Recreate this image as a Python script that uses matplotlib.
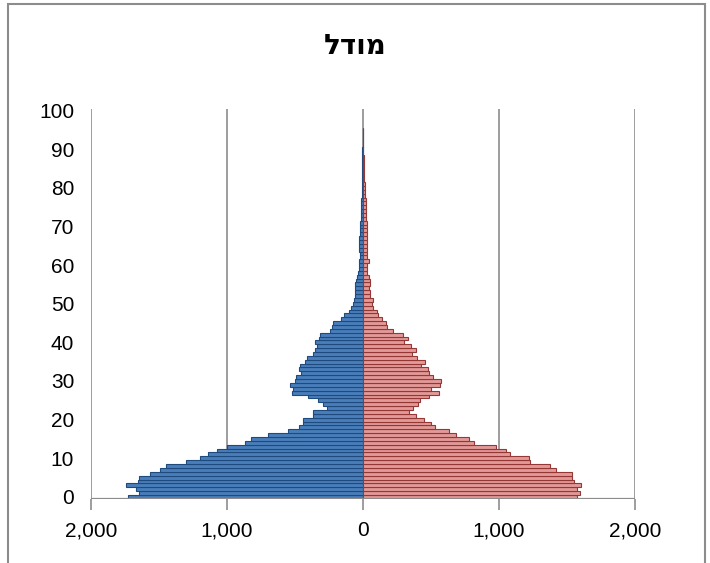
import matplotlib.pyplot as plt
import matplotlib.patches as patches
import numpy as np

# ages 0..95
ages = np.arange(0, 96)

# left side (blue)
blue = [1730, 1645, 1669, 1743, 1657, 1645, 1566, 1488, 1444, 1297,
        1199, 1137, 1071, 1002, 863, 821, 696, 549, 468, 439,
        439, 370, 370, 262, 292, 333, 402, 524, 512, 532,
        500, 493, 458, 468, 463, 426, 409, 370, 353, 340,
        353, 321, 316, 243, 230, 218, 157, 140, 103, 90,
        71, 64, 59, 59, 54, 54, 47, 40, 34, 30,
        29, 27, 24, 24, 25, 27, 29, 26, 22, 20,
        17, 17, 16, 15, 15, 12, 10, 10, 9, 8,
        8, 7, 6, 6, 5, 5, 4, 4, 3, 3,
        3, 2, 2, 2, 1, 1]

# right side (red)
red = [1576, 1596, 1576, 1608, 1551, 1542, 1537, 1424, 1380, 1228,
       1223, 1081, 1051, 983, 816, 779, 689, 632, 532, 500,
       449, 390, 338, 370, 409, 419, 488, 561, 500, 571,
       576, 517, 488, 480, 431, 456, 395, 365, 390, 353,
       304, 333, 292, 223, 179, 169, 142, 115, 108, 76,
       71, 76, 56, 52, 47, 56, 52, 47, 34, 34,
       29, 45, 29, 34, 30, 34, 32, 34, 30, 28,
       29, 30, 27, 25, 22, 22, 20, 20, 18, 17,
       15, 14, 12, 11, 10, 9, 8, 7, 6, 5,
       5, 4, 3, 3, 2, 2]

x_ticks = [-2000, -1000, 0, 1000, 2000]
x_labels = ['2,000', '1,000', '0', '1,000', '2,000']
y_ticks = list(range(0, 101, 10))

title = 'מודל'

fig = plt.figure(figsize=(7.10, 5.63), dpi=100)
ax = fig.add_axes([0.128, 0.114, 0.766, 0.693])

ax.barh(ages, -np.array(blue), height=1.0, color='#4A7EBB',
        edgecolor='#1F4A7D', linewidth=0.8, zorder=3)
ax.barh(ages, red, height=1.0, color='#E29A98',
        edgecolor='#953735', linewidth=0.8, zorder=3)

ax.set_xlim(-2000, 2000)
ax.set_ylim(-0.5, 100.5)

for xv in x_ticks:
    ax.axvline(xv, color='#8C8C8C', linewidth=1.2, zorder=1)
ax.axhline(-0.5, color='#8C8C8C', linewidth=1.6, zorder=4)

for s in ax.spines.values():
    s.set_visible(False)

ax.set_xticks(x_ticks)
ax.set_xticklabels(x_labels, fontsize=15, fontfamily='Liberation Sans')
ax.set_yticks(y_ticks)
ax.set_yticklabels([str(v) for v in y_ticks], fontsize=15, fontfamily='Liberation Sans')
ax.tick_params(axis='x', length=8, color='#8C8C8C', width=1.2, pad=8)
ax.tick_params(axis='y', length=0, pad=12)

# matplotlib draws left to right, so reverse the Hebrew for display
fig.text(0.5, 0.918, title[::-1], ha='center', va='center', fontsize=20,
         fontweight='bold', fontfamily='DejaVu Sans')

# chart border
fig.patches.append(patches.Rectangle((8 / 710, -0.01), 697 / 710, 1 - 4 / 563 + 0.01,
                                     transform=fig.transFigure, fill=False,
                                     edgecolor='#8C8C8C', linewidth=1.5))

fig.savefig('out.png', dpi=100)
